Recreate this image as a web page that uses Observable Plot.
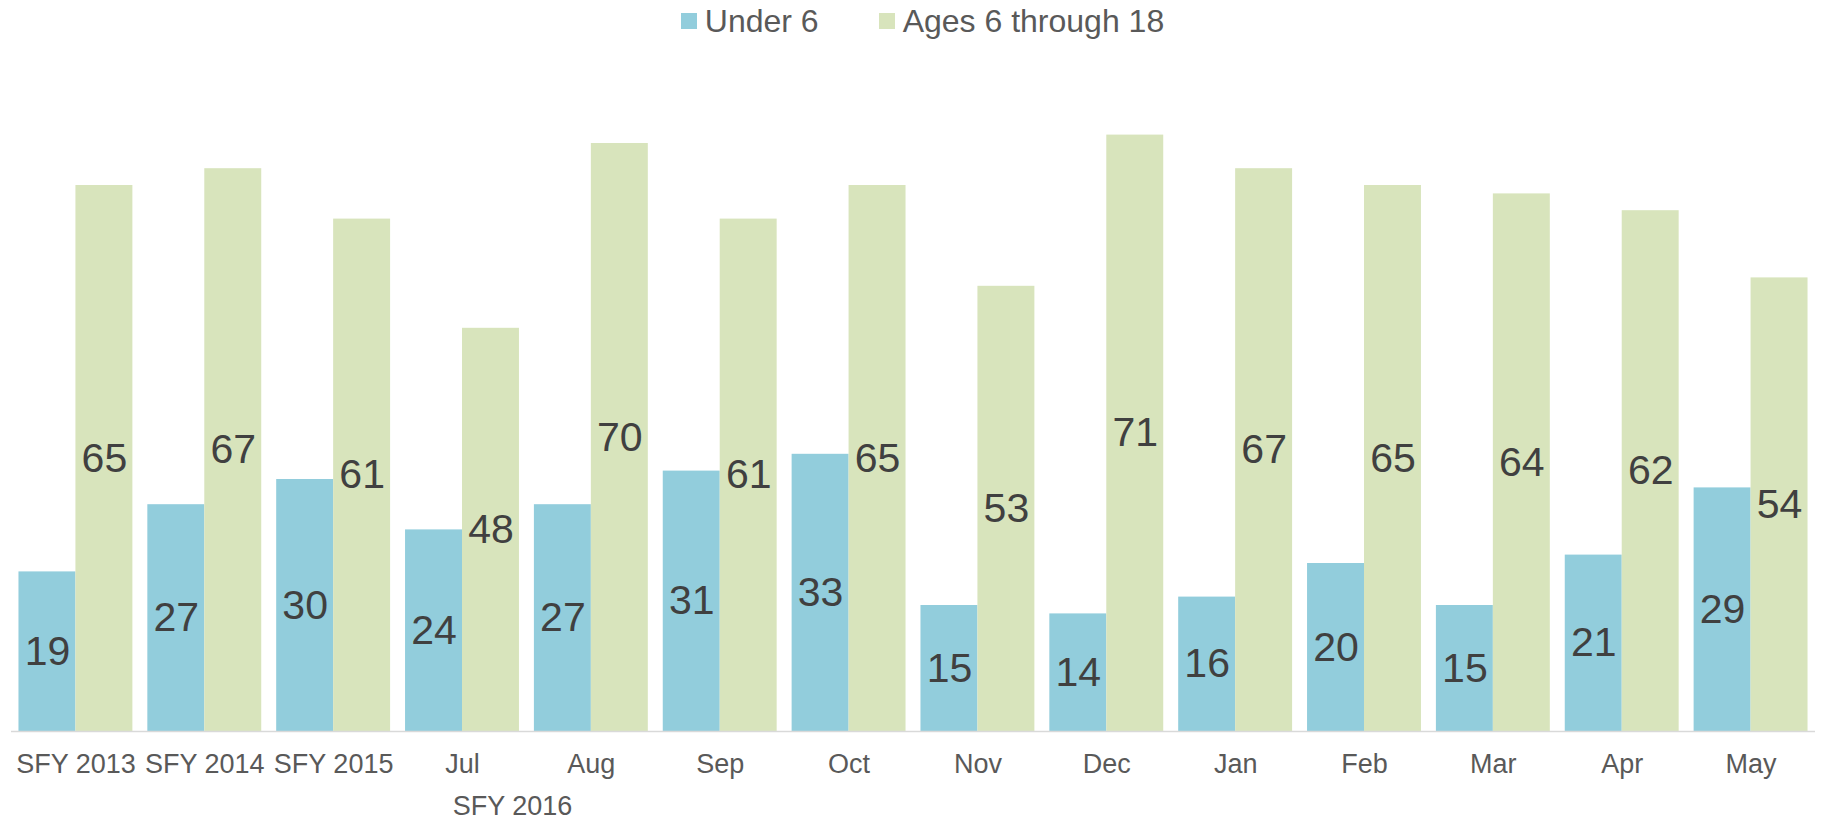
<!DOCTYPE html>
<html>
<head>
<meta charset="utf-8">
<script src="https://cdn.jsdelivr.net/npm/d3@7"></script>
<script src="https://cdn.jsdelivr.net/npm/@observablehq/plot@0.6"></script>
<style>
  html, body { margin: 0; padding: 0; background: #fff; overflow: hidden; }
  body { font-family: "Liberation Sans", Arial, sans-serif; }
  #legend { height: 50px; display: flex; justify-content: center; align-items: flex-start; padding-left: 24px; box-sizing: border-box; }
  .item { display: flex; align-items: center; height: 42px; font-size: 32px; color: #595959; }
  .item + .item { margin-left: 60px; }
  .sw { width: 16px; height: 16px; margin-right: 8px; }
</style>
</head>
<body>
<div id="legend"></div>
<div id="chart"></div>
<script>
// ---- data ----
const categories = ["SFY 2013", "SFY 2014", "SFY 2015", "Jul", "Aug", "Sep", "Oct", "Nov", "Dec", "Jan", "Feb", "Mar", "Apr", "May"];
const seriesNames = ["Under 6", "Ages 6 through 18"];
const under6 = [19, 27, 30, 24, 27, 31, 33, 15, 14, 16, 20, 15, 21, 29];
const ages6to18 = [65, 67, 61, 48, 70, 61, 65, 53, 71, 67, 65, 64, 62, 54];
const groupLabel = "SFY 2016";
const groupAnchor = "Jul";
const colors = ["#92CDDC", "#D8E4BC"];

// ---- layout ----
const width = 1821, height = 770;
const marginLeft = 11, marginRight = 6, marginTop = 9, marginBottom = 89;
const paddingInner = 0.116, paddingOuter = 0.058;
const step = (width - marginLeft - marginRight) / categories.length;
const bandwidth = step * (1 - paddingInner);
const half = bandwidth / 2;

const rowsA = categories.map((c, i) => ({cat: c, value: under6[i]}));
const rowsB = categories.map((c, i) => ({cat: c, value: ages6to18[i]}));

// legend
const legend = document.getElementById("legend");
seriesNames.forEach((name, i) => {
  const item = document.createElement("div");
  item.className = "item";
  const sw = document.createElement("span");
  sw.className = "sw";
  sw.style.background = colors[i];
  const t = document.createElement("span");
  t.textContent = name;
  item.appendChild(sw);
  item.appendChild(t);
  legend.appendChild(item);
});

const chart = Plot.plot({
  width, height, marginLeft, marginRight, marginTop, marginBottom,
  style: {fontFamily: "'Liberation Sans', Arial, sans-serif", background: "#fff", overflow: "visible"},
  x: {type: "band", domain: categories, paddingInner, paddingOuter, round: false, label: null},
  y: {domain: [0, 80], axis: null, label: null},
  marks: [
    Plot.barY(rowsA, {x: "cat", y: "value", fill: colors[0], insetRight: half}),
    Plot.barY(rowsB, {x: "cat", y: "value", fill: colors[1], insetLeft: half}),
    Plot.ruleY([0], {stroke: "#d9d9d9", strokeWidth: 1.5}),
    Plot.text(rowsA, {x: "cat", y: d => d.value / 2, text: d => String(d.value), dx: -half / 2, fontSize: 41, fill: "#404040"}),
    Plot.text(rowsB, {x: "cat", y: d => d.value / 2, text: d => String(d.value), dx: half / 2, fontSize: 41, fill: "#404040"}),
    Plot.axisX({tickSize: 0, tickPadding: 22, fontSize: 27, color: "#595959", label: null}),
    Plot.text([groupLabel], {x: () => groupAnchor, text: d => d, frameAnchor: "bottom", dy: 83, dx: 50, fontSize: 27, fill: "#595959"})
  ]
});
document.getElementById("chart").appendChild(chart);
</script>
</body>
</html>
